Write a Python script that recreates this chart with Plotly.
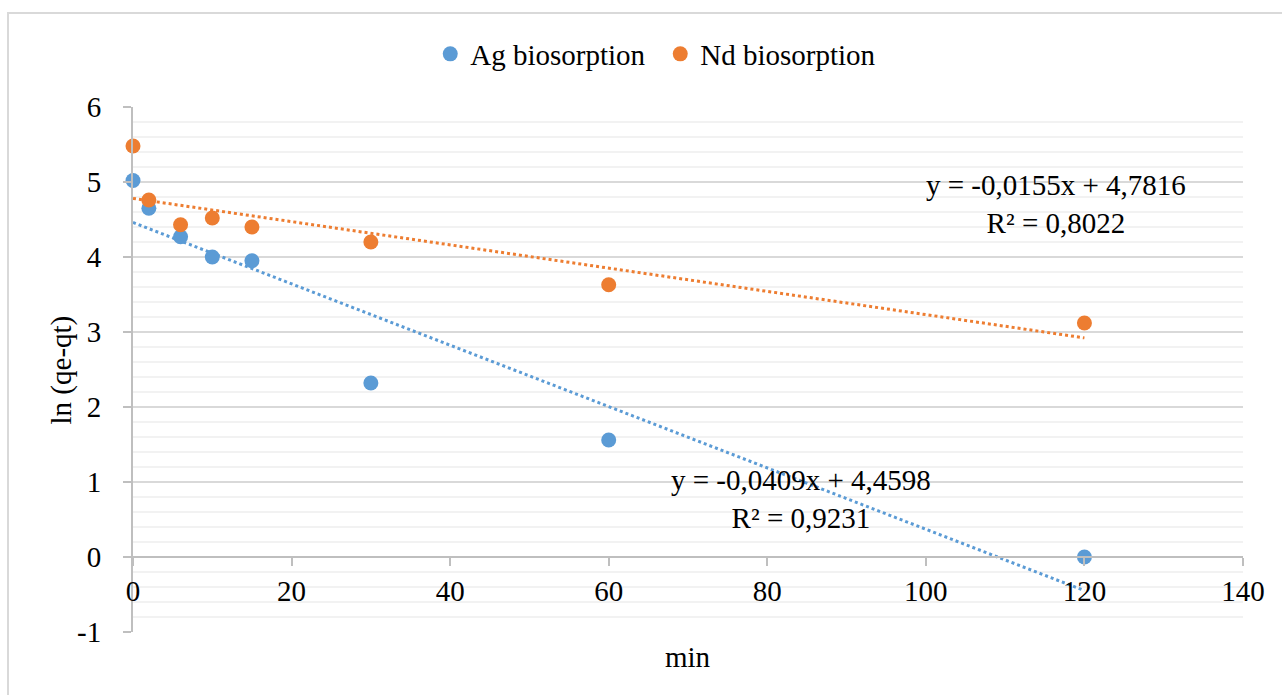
import plotly.graph_objects as go

# Data
time_min = [0, 2, 6, 10, 15, 30, 60, 120]
ag_ln = [5.02, 4.65, 4.27, 4.00, 3.95, 2.32, 1.56, 0.00]
nd_ln = [5.48, 4.76, 4.43, 4.52, 4.40, 4.20, 3.63, 3.12]

ag_slope, ag_intercept, ag_r2 = -0.0409, 4.4598, 0.9231
nd_slope, nd_intercept, nd_r2 = -0.0155, 4.7816, 0.8022

x_ticks = [0, 20, 40, 60, 80, 100, 120, 140]
y_ticks = [-1, 0, 1, 2, 3, 4, 5, 6]
y_tick_text = ["-1", "0", "1", "2", "3", "4", "5", "6"]

BLUE = "#5B9BD5"
ORANGE = "#ED7D31"
FONT = "Liberation Serif"
FS = 29


def fmt(v, d):
    return f"{v:.{d}f}".replace(".", ",")


fig = go.Figure()

x_line = [min(time_min), max(time_min)]
fig.add_trace(go.Scatter(
    x=x_line, y=[ag_slope * x + ag_intercept for x in x_line], mode="lines",
    line=dict(color=BLUE, width=3, dash="dot"), showlegend=False, hoverinfo="skip",
    cliponaxis=False))
fig.add_trace(go.Scatter(
    x=x_line, y=[nd_slope * x + nd_intercept for x in x_line], mode="lines",
    line=dict(color=ORANGE, width=3, dash="dot"), showlegend=False, hoverinfo="skip",
    cliponaxis=False))

fig.add_trace(go.Scatter(x=time_min, y=ag_ln, mode="markers", name="Ag biosorption",
                         marker=dict(color=BLUE, size=15), cliponaxis=False))
fig.add_trace(go.Scatter(x=time_min, y=nd_ln, mode="markers", name="Nd biosorption",
                         marker=dict(color=ORANGE, size=15), cliponaxis=False))

fig.update_layout(
    width=1282, height=695,
    margin=dict(l=133, r=39, t=107, b=63),
    paper_bgcolor="white", plot_bgcolor="white",
    font=dict(family=FONT, size=FS, color="black"),
    legend=dict(orientation="h", x=0.475, xanchor="center", y=1.101, yanchor="middle",
                font=dict(family=FONT, size=FS), itemwidth=30, tracegroupgap=0,
                entrywidth=185, entrywidthmode="pixels",
                bgcolor="rgba(0,0,0,0)"),
    xaxis=dict(range=[0, 140], tickvals=x_ticks, showgrid=False, zeroline=False,
               showline=True, linecolor="#BFBFBF", linewidth=2,
               ticks="outside", ticklen=8, tickcolor="#BFBFBF", tickwidth=2,
               anchor="free", position=1 / 7,
               tickfont=dict(family=FONT, size=FS)),
    yaxis=dict(range=[-1, 6], tickvals=y_ticks, ticktext=y_tick_text,
               showgrid=True, gridcolor="#D9D9D9",
               gridwidth=2, zeroline=False, showline=True, linecolor="#BFBFBF",
               linewidth=2, ticks="outside", ticklen=8, tickcolor="#BFBFBF",
               tickwidth=2, ticklabelstandoff=16,
               minor=dict(dtick=0.2, showgrid=True, gridcolor="#F2F2F2", gridwidth=2,
                          ticks=""),
               tickfont=dict(family=FONT, size=FS)),
    showlegend=True,
)

fig.add_annotation(text="min", xref="paper", yref="paper", x=0.5, y=-0.0476,
                   showarrow=False, xanchor="center", yanchor="middle",
                   font=dict(family=FONT, size=FS))
fig.add_annotation(text="ln (qe-qt)", xref="paper", yref="paper", x=-0.064, y=0.5,
                   textangle=-90, showarrow=False, xanchor="center", yanchor="middle",
                   font=dict(family=FONT, size=FS))

fig.add_annotation(text=f"y = {fmt(nd_slope, 4)}x + {fmt(nd_intercept, 4)}<br>R² = {fmt(nd_r2, 4)}",
                   x=116.4, y=4.71, xref="x", yref="y", showarrow=False,
                   xanchor="center", yanchor="middle", align="center",
                   font=dict(family=FONT, size=FS))
fig.add_annotation(text=f"y = {fmt(ag_slope, 4)}x + {fmt(ag_intercept, 4)}<br>R² = {fmt(ag_r2, 4)}",
                   x=84.2, y=0.77, xref="x", yref="y", showarrow=False,
                   xanchor="center", yanchor="middle", align="center",
                   font=dict(family=FONT, size=FS))

# chart border (top and left)
fig.add_shape(type="rect", xref="paper", yref="paper", x0=-0.1126, x1=1.1,
              y0=-0.2, y1=1.179, line=dict(color="#D9D9D9", width=2), layer="below")

fig.write_html("out.html")
